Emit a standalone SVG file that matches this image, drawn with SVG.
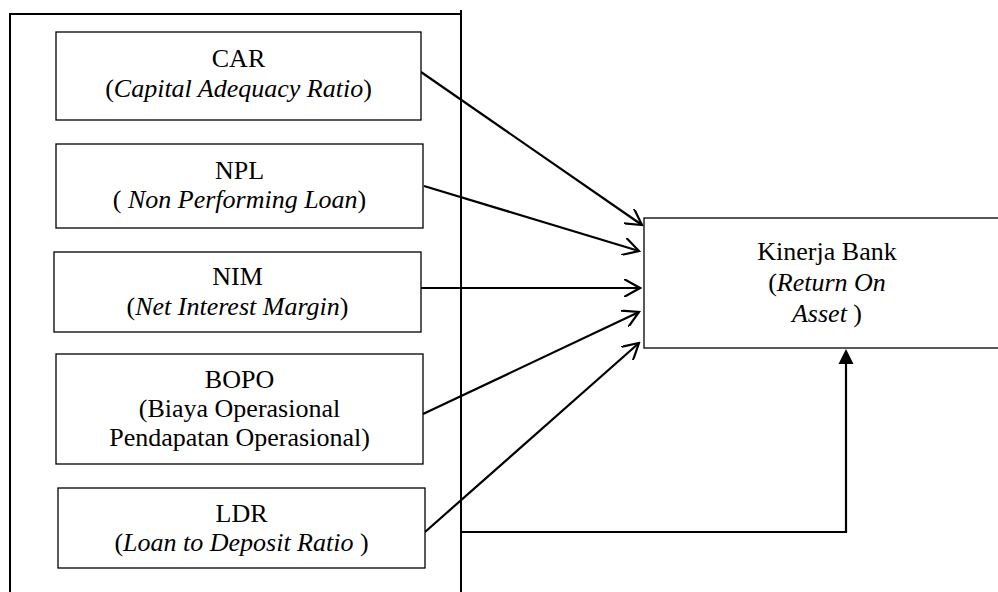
<svg xmlns="http://www.w3.org/2000/svg" width="998" height="592" viewBox="0 0 998 592">
<style>
text{font-family:"Liberation Serif","Times New Roman",serif;font-size:26px;fill:#000;text-anchor:middle}
.i{font-style:italic}
.box{fill:#fff;stroke:#000;stroke-width:1.3}
.frame{fill:none;stroke:#000;stroke-width:2}
.con{fill:none;stroke:#000;stroke-width:2.2}
</style>
<defs>
<marker id="open" viewBox="0 0 18 18" refX="16" refY="9" markerWidth="18" markerHeight="18" markerUnits="userSpaceOnUse" orient="auto">
<path d="M0,0 L16,9 L0,18" fill="none" stroke="#000" stroke-width="2.2"/>
</marker>
</defs>
<g id="container">
<path class="frame" d="M10,592 L10,14 L461,14"/>
<path class="frame" d="M461,10 L461,592"/>
</g>
<g id="connectors">
<line class="con" x1="421" y1="72" x2="642" y2="225" marker-end="url(#open)"/>
<line class="con" x1="424" y1="186" x2="639" y2="251" marker-end="url(#open)"/>
<line class="con" x1="421" y1="288" x2="640" y2="288" marker-end="url(#open)"/>
<line class="con" x1="423" y1="414" x2="639" y2="312" marker-end="url(#open)"/>
<line class="con" x1="425" y1="532" x2="639" y2="343" marker-end="url(#open)"/>
<path class="con" d="M461,532 L846,532 L846,362"/>
<polygon points="846,349 838.5,364 853.5,364" fill="#000"/>
</g>
<g id="car">
<rect class="box" x="56" y="32" width="365" height="88"/>
<text x="238.5" y="67">CAR</text>
<text x="238.5" y="97">(<tspan class="i">Capital Adequacy Ratio</tspan>)</text>
</g>
<g id="npl">
<rect class="box" x="56" y="144" width="367" height="84"/>
<text x="239.5" y="179">NPL</text>
<text x="239.5" y="208">( <tspan class="i">Non Performing Loan</tspan>)</text>
</g>
<g id="nim">
<rect class="box" x="54" y="252" width="367" height="80"/>
<text x="237.5" y="285">NIM</text>
<text x="237.5" y="315">(<tspan class="i">Net Interest Margin</tspan>)</text>
</g>
<g id="bopo">
<rect class="box" x="56" y="354" width="367" height="110"/>
<text x="239.5" y="388">BOPO</text>
<text x="239.5" y="417">(Biaya Operasional</text>
<text x="239.5" y="446">Pendapatan Operasional)</text>
</g>
<g id="ldr">
<rect class="box" x="58" y="488" width="367" height="80"/>
<text x="241.5" y="522">LDR</text>
<text x="241.5" y="551">(<tspan class="i">Loan to Deposit Ratio</tspan> )</text>
</g>
<g id="kinerja">
<rect class="box" x="644" y="218" width="370" height="130"/>
<text x="827" y="260">Kinerja Bank</text>
<text x="827" y="291">(<tspan class="i">Return On</tspan></text>
<text x="827" y="322"><tspan class="i">Asset</tspan> )</text>
</g>
</svg>
